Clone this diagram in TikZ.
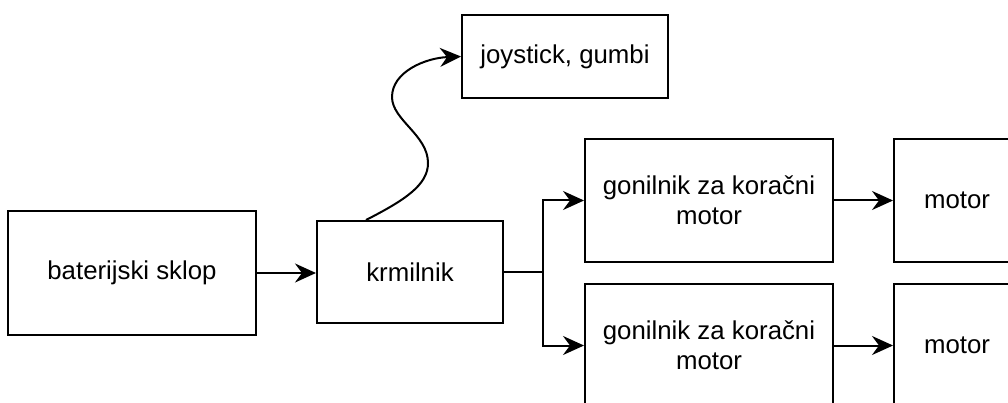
\documentclass[tikz,border=0pt]{standalone}
\usepackage{fontspec}
\setmainfont{Liberation Sans}
\usetikzlibrary{arrows.meta}
\begin{document}
\begin{tikzpicture}[x=1pt,y=-1pt,
  box/.style={draw, line width=2pt, rectangle, align=center, inner sep=0pt,
    font=\fontsize{25.8}{30}\selectfont, text=black},
  arr/.style={line width=2pt, -{Stealth[length=21pt,width=19pt,inset=7pt]}}]
\useasboundingbox (0,0) rectangle (1008,403);
\clip (0,0) rectangle (1008,403);
\fill[white] (0,0) rectangle (1008,403);
\node[box, minimum width=248pt, minimum height=124pt] (bat) at (132,273) {baterijski sklop};
\node[box, minimum width=186pt, minimum height=102pt] (krm) at (410,272) {krmilnik};
\node[box, minimum width=206pt, minimum height=83pt] (joy) at (565,56.5) {joystick, gumbi};
\node[box, minimum width=248pt, minimum height=123pt] (drv1) at (709,200.5) {gonilnik za koračni\\motor};
\node[box, minimum width=248pt, minimum height=123pt] (drv2) at (709,345.5) {gonilnik za koračni\\motor};
\node[box, minimum width=126pt, minimum height=123pt] (mot1) at (957,200.5) {motor};
\node[box, minimum width=126pt, minimum height=123pt] (mot2) at (957,345.5) {motor};
\coordinate (br) at (543,272);
\coordinate (cs) at ([xshift=50pt]krm.north west);
\draw[arr] (bat.east) -- (bat.east -| krm.west);
\draw[line width=2pt] (krm.east) -- (br);
\draw[arr] (br) |- (drv1.west);
\draw[arr] (br) |- (drv2.west);
\draw[arr] (drv1.east) -- (mot1.west);
\draw[arr] (drv2.east) -- (mot2.west);
\draw[arr] (cs) .. controls (405,200) and (428,185) .. (428,163)
  .. controls (428,135) and (392,120) .. (392,97)
  .. controls (392,72) and (425,58) .. (joy.west);
\end{tikzpicture}
\end{document}
